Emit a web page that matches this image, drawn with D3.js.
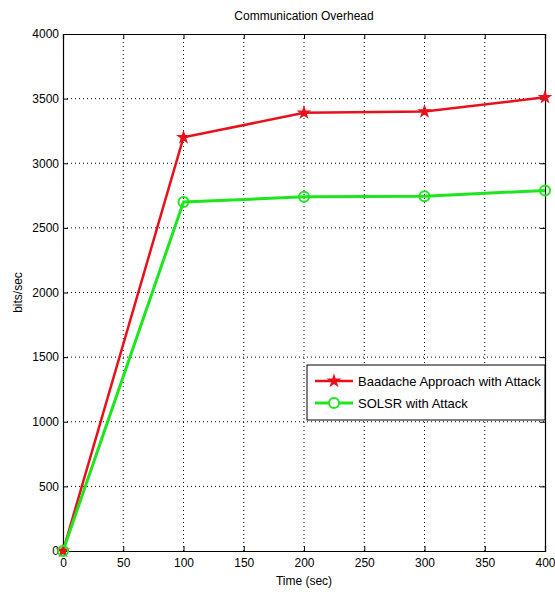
<!DOCTYPE html>
<html><head><meta charset="utf-8">
<script src="https://cdn.jsdelivr.net/npm/d3@7"></script>
<style>body{margin:0;background:#fff;} text{font-family:"Liberation Sans",Arial,sans-serif;}</style>
</head><body>
<svg id="c" width="555" height="593"></svg>
<script>
const times = [0, 100, 200, 300, 400];
const baadache = [0, 3200, 3390, 3400, 3510];
const solsr = [0, 2700, 2740, 2745, 2790];
const xTicks = [0, 50, 100, 150, 200, 250, 300, 350, 400];
const yTicks = [0, 500, 1000, 1500, 2000, 2500, 3000, 3500, 4000];
const seriesNames = ["Baadache Approach with Attack", "SOLSR with Attack"];
const seriesColors = ["#e8111b", "#1ee61e"];

const svg = d3.select("#c");
const L = 63, R = 545, T = 34, B = 551;
const x = d3.scaleLinear().domain([0, 400]).range([L, R]);
const y = d3.scaleLinear().domain([0, 4000]).range([B, T]);

// grid
const g = svg.append("g");
g.selectAll(".vg").data(xTicks.slice(1, -1)).enter().append("line")
  .attr("x1", d => x(d)).attr("x2", d => x(d)).attr("y1", T).attr("y2", B)
  .attr("stroke", "#000").attr("stroke-width", 1).attr("stroke-dasharray", "1,3");
g.selectAll(".hg").data(yTicks.slice(1, -1)).enter().append("line")
  .attr("y1", d => y(d)).attr("y2", d => y(d)).attr("x1", L).attr("x2", R)
  .attr("stroke", "#000").attr("stroke-width", 1).attr("stroke-dasharray", "1,3");

// axes
const fs = "12px";
const fmt = d3.format("d");
const xb = svg.append("g").attr("transform", `translate(0,${B})`)
  .call(d3.axisBottom(x).tickValues(xTicks).tickSize(-5).tickPadding(7).tickFormat(fmt));
const xt = svg.append("g").attr("transform", `translate(0,${T})`)
  .call(d3.axisTop(x).tickValues(xTicks).tickSize(-5).tickFormat(""));
const yl = svg.append("g").attr("transform", `translate(${L},0)`)
  .call(d3.axisLeft(y).tickValues(yTicks).tickSize(-5).tickPadding(4).tickFormat(fmt));
const yr = svg.append("g").attr("transform", `translate(${R},0)`)
  .call(d3.axisRight(y).tickValues(yTicks).tickSize(-5).tickFormat(""));
[xb, xt, yl, yr].forEach(a => {
  a.select(".domain").attr("stroke", "#000").attr("stroke-width", 1.2);
  a.selectAll(".tick line").attr("stroke", "#000");
  a.selectAll("text").attr("fill", "#000").style("font-size", fs)
    .style("font-family", "'Liberation Sans', Arial, sans-serif");
});

// lines
const data = [baadache, solsr];
const line = d3.line().x((d, i) => x(times[i])).y(d => y(d));
data.forEach((s, k) => {
  svg.append("path").datum(s).attr("d", line).attr("fill", "none")
    .attr("stroke", seriesColors[k]).attr("stroke-width", k === 0 ? 2.5 : 3);
});
// markers
const star = d3.symbol().type(d3.symbolStar).size(32);
svg.selectAll(".m0").data(baadache).enter().append("path")
  .attr("d", star).attr("transform", (d, i) => `translate(${x(times[i])},${y(d)})`)
  .attr("fill", seriesColors[0]).attr("stroke", seriesColors[0]).attr("stroke-width", 1.5);
svg.selectAll(".m1").data(solsr).enter().append("circle")
  .attr("cx", (d, i) => x(times[i])).attr("cy", d => y(d)).attr("r", 5)
  .attr("fill", "none").attr("stroke", seriesColors[1]).attr("stroke-width", 2);

// title and labels
svg.append("text").attr("x", (L + R) / 2).attr("y", 20).attr("text-anchor", "middle")
  .style("font-size", "12px").text("Communication Overhead");
svg.append("text").attr("x", (L + R) / 2).attr("y", 585).attr("text-anchor", "middle")
  .style("font-size", "12px").text("Time (sec)");
svg.append("text").attr("transform", `translate(22,${(T + B) / 2}) rotate(-90)`)
  .attr("text-anchor", "middle").style("font-size", "12px").text("bits/sec");

// legend
const lg = svg.append("g");
lg.append("rect").attr("x", 307).attr("y", 365).attr("width", 238).attr("height", 55)
  .attr("fill", "#fff").attr("stroke", "#000").attr("stroke-width", 1);
const ly = [381, 403];
seriesNames.forEach((n, k) => {
  lg.append("line").attr("x1", 315).attr("x2", 353).attr("y1", ly[k]).attr("y2", ly[k])
    .attr("stroke", seriesColors[k]).attr("stroke-width", k === 0 ? 2.5 : 3);
  if (k === 0) {
    lg.append("path").attr("d", star).attr("transform", `translate(334,${ly[k]})`)
      .attr("fill", seriesColors[0]).attr("stroke", seriesColors[0]).attr("stroke-width", 1.5);
  } else {
    lg.append("circle").attr("cx", 334).attr("cy", ly[k]).attr("r", 5)
      .attr("fill", "#fff").attr("stroke", seriesColors[1]).attr("stroke-width", 2);
  }
  lg.append("text").attr("x", 358).attr("y", ly[k] + 5).style("font-size", "13px").text(n);
});
</script>
</body></html>
